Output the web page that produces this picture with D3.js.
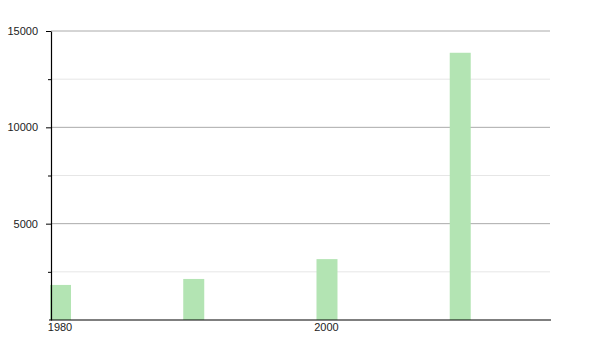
<!DOCTYPE html>
<html>
<head>
<meta charset="utf-8">
<script src="https://cdn.jsdelivr.net/npm/d3@7"></script>
<style>
  body { margin: 0; background: #fff; }
  text { font-family: "Liberation Sans", Arial, sans-serif; }
</style>
</head>
<body>
<div class="chart"></div>
<script>
// population by year
const years = [1980, 1990, 2000, 2010];
const values = [1820, 2130, 3160, 13870];
const xTicks = [1980, 2000];
const yMajor = [5000, 10000, 15000];
const yMinor = [2500, 7500, 12500];

const width = 600;
const height = 350;
const padLeft = 51, padRight = 551, padTop = 31, padBottom = 320;
const barW = 21;

const svg = d3.select('.chart').append('svg').attr('width', width).attr('height', height)

const x = d3.scaleLinear().domain([1980, 2017.6]).range([padLeft - 1, padRight])
const y = d3.scaleLinear().domain([0, 15000]).range([padBottom, padTop])

// grid lines
svg.selectAll('line.minor')
    .data(yMinor)
    .enter()
    .append('line')
    .attr('x1', padLeft).attr('x2', padRight - 1)
    .attr('y1', d=>y(d)).attr('y2', d=>y(d))
    .attr('stroke', '#e6e6e6')
svg.selectAll('line.major')
    .data(yMajor)
    .enter()
    .append('line')
    .attr('x1', padLeft).attr('x2', padRight - 1)
    .attr('y1', d=>y(d)).attr('y2', d=>y(d))
    .attr('stroke', '#aaaaaa')

// bars
svg.selectAll('rect')
    .data(years)
    .enter()
    .append('rect')
    .attr('x', d=>x(d))
    .attr('y', (d,i)=>y(values[i]))
    .attr('width', barW)
    .attr('height', (d,i)=>y(0)-y(values[i]))
    .attr('fill', '#b3e4b3')

// y axis
const yAxis = svg.append('g').attr('transform', `translate(${padLeft},0)`)
    .call(d3.axisLeft(y).tickValues(yMajor).tickSize(5).tickSizeOuter(0).tickPadding(8).tickFormat(d3.format('d')))
yAxis.select('.domain').attr('stroke', '#000').attr('stroke-width', 1.2)
yAxis.selectAll('text').attr('font-size', 11).attr('fill', '#222').attr('font-family', '"Liberation Sans", Arial, sans-serif')
yAxis.selectAll('.tick line').attr('stroke', '#000')
svg.append('g').attr('transform', `translate(${padLeft},0)`)
    .call(d3.axisLeft(y).tickValues(yMinor).tickSize(3).tickFormat(''))
    .call(g=>g.select('.domain').remove())

// x axis
const xAxis = svg.append('g').attr('transform', `translate(0,${padBottom})`)
    .call(d3.axisBottom(x).tickValues(xTicks).tickSize(0).tickSizeOuter(0).tickPadding(3).tickFormat(d3.format('d')))
xAxis.select('.domain').attr('d', `M${padLeft - 2},0H${padRight}`).attr('stroke', '#000').attr('stroke-width', 1.2)
xAxis.selectAll('text').attr('font-size', 11).attr('fill', '#222').attr('dx', barW / 2 - 1)
    .attr('font-family', '"Liberation Sans", Arial, sans-serif')
</script>
</body>
</html>
